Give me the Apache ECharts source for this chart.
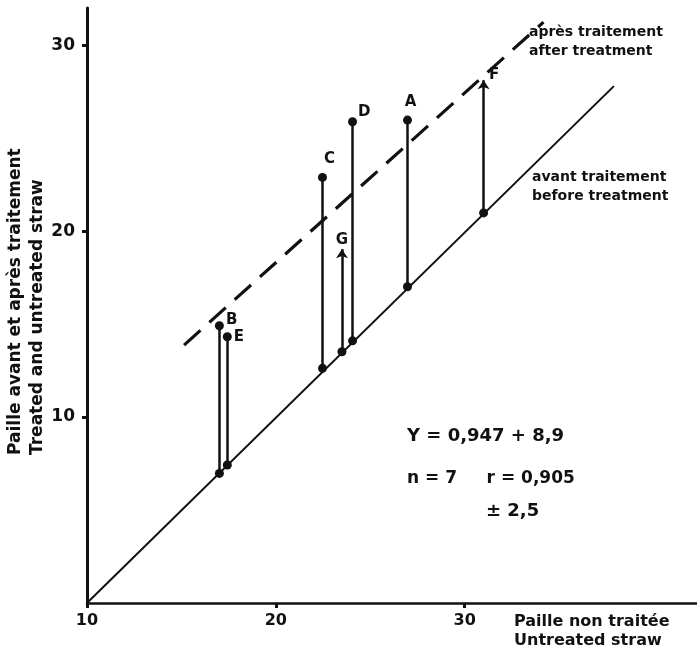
<!DOCTYPE html>
<html>
<head>
<meta charset="utf-8">
<script src="https://cdn.jsdelivr.net/npm/echarts@6.0.0/dist/echarts.min.js"></script>
<style>
  html, body { margin: 0; padding: 0; background: #fff; }
  #main { width: 697px; height: 657px; }
</style>
</head>
<body>
<div id="main"></div>
<script>
// straw samples: untreated value (x), before (on the line) and after treatment
var samples = ['A', 'B', 'C', 'D', 'E', 'F', 'G'];
var untreated = [26.97, 17.01, 22.47, 24.06, 17.43, 31.0, 23.5];
var beforeVal = [17.01, 6.97, 12.62, 14.1, 7.42, 20.98, 13.51];
var afterVal = [25.97, 14.91, 22.89, 25.88, 14.32, 28.12, 19.02];
var arrowed = ['F', 'G'];

// reference lines
var beforeLine = [[10, 0], [37.9, 27.8]];
var afterLine = [[15.14, 13.87], [34.17, 31.24]];

var xTicks = [10, 20, 30];
var yTicks = [10, 20, 30];

var font = 'DejaVu Sans';
var ink = '#111';

var labelPos = {
    A: { position: 'top', offset: [3, -2] },
    B: { position: 'right', offset: [-2, -6] },
    C: { position: 'top', offset: [7, -2] },
    D: { position: 'right', offset: [-3, -10] },
    E: { position: 'right', offset: [-2, 0] },
    F: { position: 'right', offset: [1, -5] },
    G: { position: 'top', offset: [0, 3] }
};

var plain = [], arrows = [], tops = [], bottoms = [];
samples.forEach(function (s, i) {
    var seg = { coords: [[untreated[i], beforeVal[i]], [untreated[i], afterVal[i]]] };
    var isArrow = arrowed.indexOf(s) >= 0;
    (isArrow ? arrows : plain).push(seg);
    tops.push({
        name: s,
        value: [untreated[i], afterVal[i]],
        symbolSize: isArrow ? 1 : 9,
        label: labelPos[s]
    });
    bottoms.push([untreated[i], beforeVal[i]]);
});

var myChart = echarts.init(document.getElementById('main'));

option = {
    backgroundColor: '#fff',
    animation: false,
    grid: { left: 87, top: 8, right: 0, bottom: 54 },
    xAxis: {
        type: 'value',
        min: 10,
        max: 42.3,
        splitLine: { show: false },
        axisLine: { lineStyle: { color: ink, width: 2.5 } },
        axisTick: { customValues: xTicks, length: 5, lineStyle: { color: ink, width: 3 } },
        axisLabel: { customValues: xTicks, color: ink, fontSize: 16, fontWeight: 'bold', fontFamily: font, margin: 10 }
    },
    yAxis: {
        type: 'value',
        min: 0,
        max: 32,
        splitLine: { show: false },
        axisLine: { lineStyle: { color: ink, width: 3 } },
        axisTick: { customValues: yTicks, length: 5, lineStyle: { color: ink, width: 3 } },
        axisLabel: { customValues: yTicks, color: ink, fontSize: 17, fontWeight: 'bold', fontFamily: font, margin: 12, padding: [0, 0, 10, 0] }
    },
    series: [{
        name: 'avant traitement',
        type: 'line',
        data: beforeLine,
        symbol: 'none',
        lineStyle: { color: ink, width: 2 }
    }, {
        name: 'après traitement',
        type: 'line',
        data: afterLine,
        symbol: 'none',
        lineStyle: { color: ink, width: 3.2, type: [22, 12] }
    }, {
        type: 'lines',
        coordinateSystem: 'cartesian2d',
        data: plain,
        symbol: ['none', 'none'],
        lineStyle: { color: ink, width: 2.5, opacity: 1 }
    }, {
        type: 'lines',
        coordinateSystem: 'cartesian2d',
        data: arrows,
        symbol: ['none', 'arrow'],
        symbolSize: [0, 9],
        lineStyle: { color: ink, width: 2.5, opacity: 1 }
    }, {
        type: 'scatter',
        data: bottoms,
        symbolSize: 9,
        itemStyle: { color: ink, opacity: 1 }
    }, {
        type: 'scatter',
        data: tops,
        itemStyle: { color: ink, opacity: 1 },
        label: {
            show: true,
            formatter: '{b}',
            color: ink,
            fontSize: 15,
            fontWeight: 'bold',
            fontFamily: font,
            distance: 4
        }
    }],
    graphic: [{
        type: 'text', left: 529, top: 23,
        style: { text: 'après traitement\nafter treatment', font: 'bold 14px "DejaVu Sans"', fill: ink, lineHeight: 19 }
    }, {
        type: 'text', left: 532, top: 168,
        style: { text: 'avant traitement\nbefore treatment', font: 'bold 14px "DejaVu Sans"', fill: ink, lineHeight: 19 }
    }, {
        type: 'text', left: 514, top: 612,
        style: { text: 'Paille non traitée\nUntreated straw', font: 'bold 16px "DejaVu Sans"', fill: ink, lineHeight: 19 }
    }, {
        type: 'text', x: 5, y: 455, rotation: Math.PI / 2,
        style: { text: 'Paille avant et après traitement\nTreated and untreated straw', font: 'bold 17px "DejaVu Sans"', fill: ink, lineHeight: 22 }
    }, {
        type: 'text', left: 407, top: 427,
        style: { text: 'Y = 0,947 + 8,9', font: 'bold 18px "DejaVu Sans"', fill: ink }
    }, {
        type: 'text', left: 407, top: 470,
        style: { text: 'n = 7     r = 0,905', font: 'bold 17px "DejaVu Sans"', fill: ink }
    }, {
        type: 'text', left: 486, top: 502,
        style: { text: '± 2,5', font: 'bold 18px "DejaVu Sans"', fill: ink }
    }]
};
myChart.setOption(option);
</script>
</body>
</html>
